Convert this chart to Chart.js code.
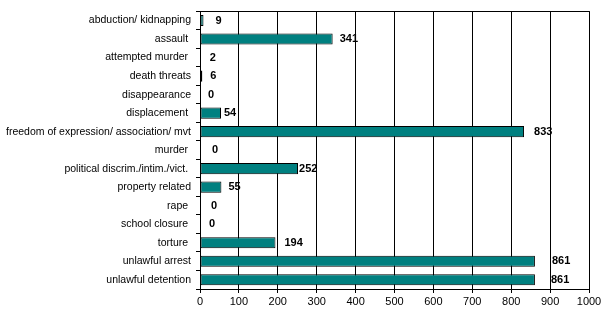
<!DOCTYPE html>
<html>
<head>
<meta charset="utf-8">
<script src="https://cdn.jsdelivr.net/npm/chart.js@4"></script>
<style>
  body { margin: 0; background: #fff; }
  #wrap { width: 607px; height: 318px; }
</style>
</head>
<body>
<div id="wrap"><canvas id="myChart"></canvas></div>
<script>
const categories = [
  "abduction/ kidnapping",
  "assault ",
  "attempted murder ",
  "death threats",
  "disappearance",
  "displacement ",
  "freedom of expression/ association/ mvt",
  "murder ",
  "political discrim./intim./vict. ",
  "property related",
  "rape ",
  "school closure ",
  "torture ",
  "unlawful arrest",
  "unlawful detention",
];
const counts = [9, 341, 2, 6, 0, 54, 833, 0, 252, 55, 0, 0, 194, 861, 861];
const xTicks = [0, 100, 200, 300, 400, 500, 600, 700, 800, 900, 1000];

// extra gap (px) between bar end and its value label, as placed in the original
const labelGap = [12, 7, 9, 8, 8, 3, 10, 12, 1, 7, 11, 9, 9, 17, 16];

const ctx = document.getElementById("myChart");

const valueLabels = {
  id: "valueLabels",
  afterDatasetsDraw(chart) {
    const c = chart.ctx;
    const meta = chart.getDatasetMeta(0);
    c.save();
    c.font = "bold 11px 'Liberation Sans', Arial, sans-serif";
    c.fillStyle = "#000";
    c.textAlign = "left";
    c.textBaseline = "middle";
    meta.data.forEach((bar, i) => {
      c.fillText(String(counts[i]), bar.x + labelGap[i], bar.y);
    });
    c.restore();
  },
};

const plotBorder = {
  id: "plotBorder",
  afterDraw(chart) {
    const a = chart.chartArea;
    const c = chart.ctx;
    c.save();
    c.strokeStyle = "#000";
    c.lineWidth = 1;
    c.beginPath();
    c.moveTo(Math.round(a.left) + 0.5, Math.round(a.top) + 0.5);
    c.lineTo(Math.round(a.right) + 0.5, Math.round(a.top) + 0.5);
    c.lineTo(Math.round(a.right) + 0.5, Math.round(a.bottom) + 0.5);
    c.stroke();
    c.restore();
  },
};

const myChart = new Chart(ctx, {
  type: "bar",
  data: {
    labels: categories,
    datasets: [
      {
        data: counts,
        backgroundColor: "#008080",
        borderColor: "#000000",
        borderWidth: 1,
        borderSkipped: false,
        barPercentage: 0.6,
        categoryPercentage: 1,
      },
    ],
  },
  options: {
    indexAxis: "y",
    responsive: true,
    maintainAspectRatio: false,
    animation: false,
    layout: { padding: { top: 5, right: 18, bottom: 0, left: 0 } },
    plugins: {
      legend: { display: false },
      tooltip: { enabled: false },
    },
    scales: {
      x: {
        min: 0,
        max: 1000,
        afterBuildTicks: (scale) => {
          scale.ticks = xTicks.map((v) => ({ value: v }));
        },
        afterFit: (scale) => {
          scale.height = 29;
        },
        grid: {
          color: "#000",
          lineWidth: 1,
          tickLength: 4,
          drawTicks: true,
        },
        border: { color: "#000", width: 1 },
        ticks: {
          color: "#000",
          padding: 2,
          maxRotation: 0,
          callback: (v) => String(v),
          font: { size: 11, family: "'Liberation Sans', Arial, sans-serif" },
        },
      },
      y: {
        afterFit: (scale) => {
          scale.width = 200;
        },
        grid: {
          drawOnChartArea: false,
          color: "#000",
          tickLength: 4,
        },
        border: { color: "#000", width: 1 },
        ticks: {
          color: "#000",
          padding: 5,
          autoSkip: false,
          font: { size: 10.5, family: "'Liberation Sans', Arial, sans-serif" },
        },
      },
    },
  },
  plugins: [valueLabels, plotBorder],
});
</script>
</body>
</html>
